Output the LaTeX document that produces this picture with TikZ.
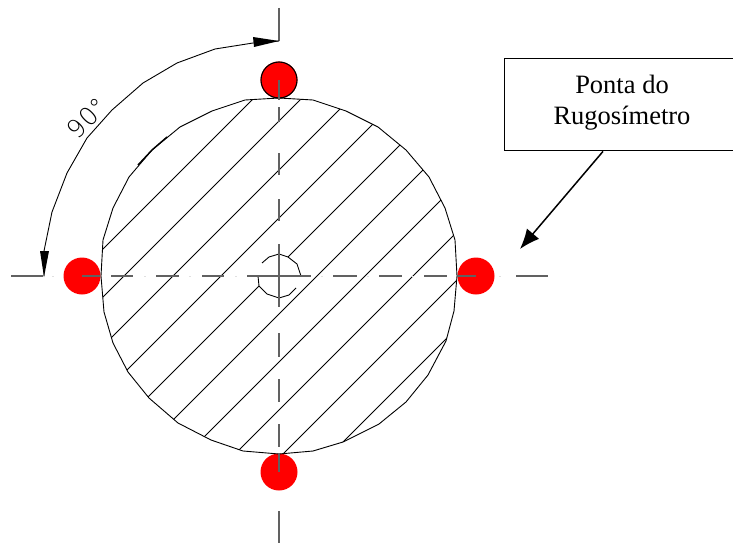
\documentclass[tikz,border=0pt]{standalone}
\usepackage{fontspec}
\setmainfont{Liberation Serif}
\newfontfamily\dimfont{DejaVu Sans ExtraLight}
\usetikzlibrary{arrows.meta,calc}
\tikzset{
  outline/.style={line width=0.9pt,black,line join=round},
  hatchline/.style={line width=0.8pt,black},
  centerline/.style={line width=1.1pt,black!62},
  faintdot/.style={line width=0.8pt,black!12},
  probe/.style={circle,fill=red,draw=none,minimum size=37pt,inner sep=0pt},
  labelbox/.style={draw=black,line width=1.4pt,rectangle,minimum width=229pt,minimum height=92pt,inner sep=0pt},
  boxtext/.style={align=center,font=\fontsize{26.5}{31}\selectfont,inner sep=0pt},
  dimtip/.style={fill=black,draw=none}
}
\begin{document}
\begin{tikzpicture}[x=1pt,y=-1pt]
\useasboundingbox (0,0) rectangle (733,543);
\fill[white] (0,0) rectangle (733,543);
% probes
\node[probe] (pL) at (82,276) {};
\node[probe] (pT) at (279,80) {};
\node[probe] (pR) at (476,276) {};
\node[probe] (pB) at (279,472) {};
\draw[line width=1.1pt,black] (pT.center) circle (18pt);
% hatching
\begin{scope}
\clip (457,276)--(454,311)--(446,341)--(428,375)--(406,402)--(379,424)--(343,442)--(313,451)--(279,454)--(243,451)--(211,440)--(178,423)--(149,398)--(128,372)--(113,343)--(104,312)--(101,276)--(103,240)--(113,208)--(129,177)--(152,150)--(180,127)--(212,111)--(245,100)--(279,98)--(313,100)--(346,111)--(378,127)--(406,150)--(429,177)--(445,208)--(455,240)--cycle;
\foreach \c in {352,400,449,497,593,641,689,737,785}{
  \draw[hatchline] (\c,0) -- (0,\c);
}
\draw[hatchline] (0,545) -- (259,286);
\draw[hatchline] (288,257) -- (545,0);
\end{scope}
% section outline
\draw[outline] (457,276)--(454,311)--(446,341)--(428,375)--(406,402)--(379,424)--(343,442)--(313,451)--(279,454)--(243,451)--(211,440)--(178,423)--(149,398)--(128,372)--(113,343)--(104,312)--(101,276)--(103,240)--(113,208)--(129,177)--(152,150)--(180,127)--(212,111)--(245,100)--(279,98)--(313,100)--(346,111)--(378,127)--(406,150)--(429,177)--(445,208)--(455,240)--cycle;
\draw[line width=1.4pt,black] (138,165)--(152,150)--(167,137);
% centre arcs
\draw[outline] (262,263)--(269,257)--(279,254)--(288,257)--(297,264)--(301,276);
\draw[outline] (258,276)--(259,286)--(267,294)--(279,298)--(289,295)--(296,288);
% centre lines
\foreach \a/\b in {11/43,82/100,111/133,156/179,202/224,247/311,333/357,379/402,424/447,457/476,516/548}{
  \draw[centerline] (\a,276) -- (\b,276);
}
\foreach \a/\b in {8/41,80/100,107/122,153/175,199/221,244/307,333/357,379/402,424/447,453/472,511/543}{
  \draw[centerline] (279,\a) -- (279,\b);
}
\foreach \p in {53,145,190,236,322,368,413,500}{
  \draw[faintdot] (\p-0.7,276) -- (\p+0.7,276);
}
% dimension arc
\draw[outline] (279,41)--(253,43)--(215,49)--(177,63)--(143,83)--(112,110)--(87,138)--(67,173)--(52,212)--(44,251)--(44,276);
\fill[dimtip] (279,41)--(253,37)--(254,47)--cycle;
\fill[dimtip] (44,277)--(40,251)--(49,251)--cycle;
\node[rotate=45,inner sep=0pt,font=\dimfont\fontsize{25}{25}\selectfont] (ang) at (87,118) {90°};
% label box
\node[labelbox,anchor=north west] (box) at (504,58) {};
\node[boxtext] (boxlabel) at (622,103) {Ponta do\\Rugosímetro};
\coordinate (leaderstart) at ($(box.south west)+(99,0)$);
\coordinate (leaderend) at (520,249);
\draw[line width=1.5pt,-{Latex[length=20pt,width=16pt]}] (leaderstart) -- (leaderend);
\end{tikzpicture}
\end{document}
